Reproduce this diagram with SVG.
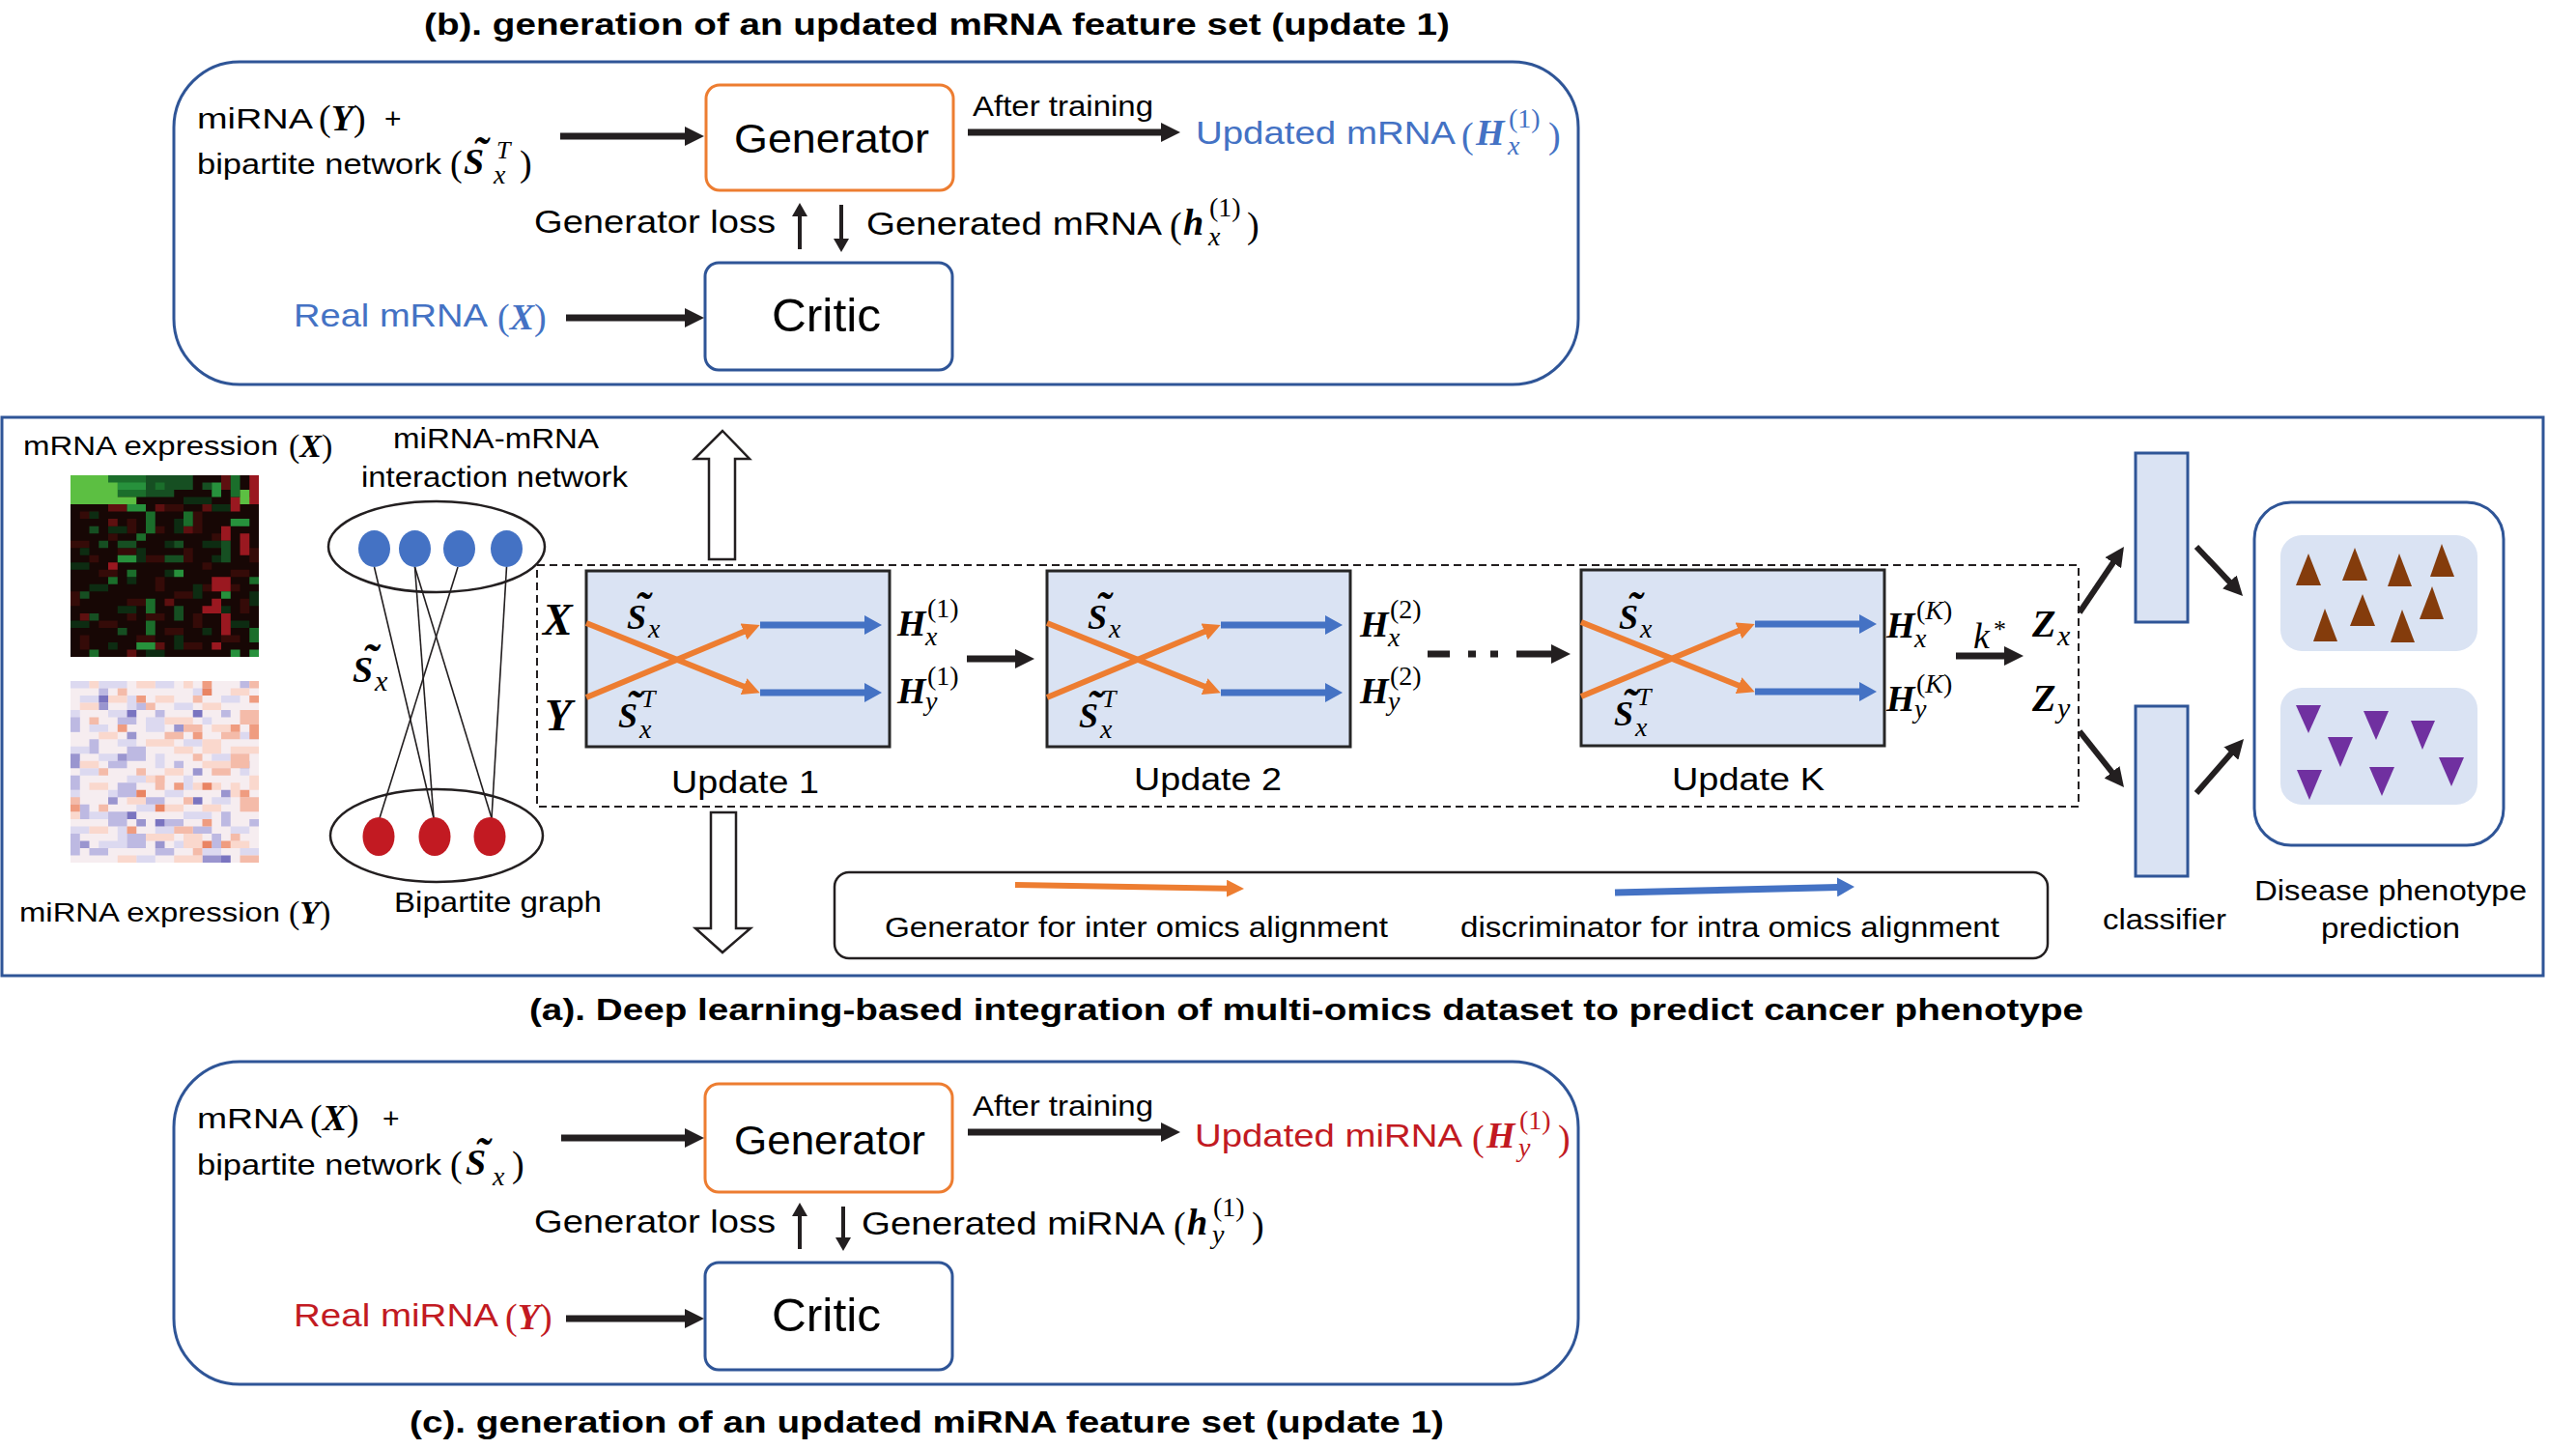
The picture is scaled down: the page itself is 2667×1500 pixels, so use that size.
<svg xmlns="http://www.w3.org/2000/svg" width="2667" height="1500" viewBox="0 0 2667 1500">
<style>
.s{font-family:"Liberation Sans",Arial,Helvetica,sans-serif}
.b{font-weight:bold}
.mb{font-family:"Liberation Serif","Times New Roman",serif;font-style:italic;font-weight:bold}
.mi{font-family:"Liberation Serif","Times New Roman",serif;font-style:italic}
.mr{font-family:"Liberation Serif","Times New Roman",serif}
.frame{fill:none;stroke:#2f5597;stroke-width:3}
.gen{fill:#fff;stroke:#ed7d31;stroke-width:3}
.crit{fill:#fff;stroke:#2f5597;stroke-width:3}
.upd{fill:#dae3f3;stroke:#262626;stroke-width:3}
.ak{stroke:#231f20;stroke-width:7;fill:none;marker-end:url(#mk)}
.aks{stroke:#231f20;stroke-width:4;fill:none;marker-end:url(#mks)}
.ao{stroke:#ed7d31;stroke-width:6;fill:none;marker-end:url(#mo)}
.ab{stroke:#4472c4;stroke-width:7;fill:none;marker-end:url(#mb)}
.hol{fill:#fff;stroke:#231f20;stroke-width:2.5}
.cls{fill:#dae3f3;stroke:#2f5597;stroke-width:3}
.edge{stroke:#231f20;stroke-width:1.6}
.tri{fill:#843c0c}
.tri2{fill:#7030a0}
</style>
<defs>
<marker id="mk" viewBox="0 0 20 20" refX="1" refY="10" markerWidth="20" markerHeight="20" markerUnits="userSpaceOnUse" orient="auto"><path d="M0 0L20 10L0 20z" fill="#231f20"/></marker>
<marker id="mks" viewBox="0 0 14 16" refX="1" refY="8" markerWidth="14" markerHeight="16" markerUnits="userSpaceOnUse" orient="auto"><path d="M0 0L14 8L0 16z" fill="#231f20"/></marker>
<marker id="mo" viewBox="0 0 18 18" refX="1" refY="9" markerWidth="18" markerHeight="18" markerUnits="userSpaceOnUse" orient="auto"><path d="M0 0L18 9L0 18z" fill="#ed7d31"/></marker>
<marker id="mb" viewBox="0 0 18 20" refX="1" refY="10" markerWidth="18" markerHeight="20" markerUnits="userSpaceOnUse" orient="auto"><path d="M0 0L18 10L0 20z" fill="#4472c4"/></marker>
</defs>
<rect width="2667" height="1500" fill="#fff"/>

<!-- ===== (b) panel ===== -->
<text class="s b" x="439" y="36" font-size="32" textLength="1062" lengthAdjust="spacingAndGlyphs">(b). generation of an updated mRNA feature set (update 1)</text>
<rect id="panel-b" class="frame" x="180" y="64" width="1454" height="334" rx="68"/>
<g id="b-input">
<text class="s" x="204" y="133" font-size="30" textLength="120" lengthAdjust="spacingAndGlyphs">miRNA</text>
<text class="mr" x="330" y="135" font-size="38">(<tspan class="mb">Y</tspan>)</text>
<text class="s" x="398" y="133" font-size="30">+</text>
<text class="s" x="204" y="180" font-size="30" textLength="253" lengthAdjust="spacingAndGlyphs">bipartite network</text>
<text class="mr" x="466" y="182" font-size="38">(</text>
<text class="mb" x="480" y="180" font-size="38">S</text>
<text class="mb" x="497" y="174" font-size="46" text-anchor="middle">˜</text>
<text class="mi" x="514" y="164" font-size="26">T</text>
<text class="mi" x="511" y="190" font-size="28">x</text>
<text class="mr" x="538" y="182" font-size="38">)</text>
</g>
<g id="b-generator">
<rect class="gen" x="731" y="88" width="256" height="109" rx="14"/>
<text class="s" x="760" y="158" font-size="42" textLength="202" lengthAdjust="spacingAndGlyphs">Generator</text>
</g>
<g id="b-critic">
<rect class="crit" x="730" y="272" width="256" height="111" rx="14"/>
<text class="s" x="799" y="343" font-size="48" textLength="113" lengthAdjust="spacingAndGlyphs">Critic</text>
</g>
<g id="b-labels">
<text class="s" x="1007" y="120" font-size="30" textLength="187" lengthAdjust="spacingAndGlyphs">After training</text>
<g fill="#4472c4">
<text class="s" x="1238" y="149" font-size="33" textLength="269" lengthAdjust="spacingAndGlyphs">Updated mRNA</text>
<text class="mr" x="1513" y="153" font-size="38">(</text>
<text class="mb" x="1528" y="150" font-size="38">H</text>
<text class="mr" x="1562" y="132" font-size="28">(1)</text>
<text class="mi" x="1561" y="160" font-size="28">x</text>
<text class="mr" x="1603" y="153" font-size="38">)</text>
</g>
<text class="s" x="553" y="241" font-size="33" textLength="250" lengthAdjust="spacingAndGlyphs">Generator loss</text>
<text class="s" x="897" y="243" font-size="33" textLength="306" lengthAdjust="spacingAndGlyphs">Generated mRNA</text>
<text class="mr" x="1211" y="246" font-size="38">(</text>
<text class="mb" x="1225" y="243" font-size="38">h</text>
<text class="mr" x="1252" y="224" font-size="28">(1)</text>
<text class="mi" x="1251" y="254" font-size="28">x</text>
<text class="mr" x="1291" y="246" font-size="38">)</text>
<g fill="#4472c4">
<text class="s" x="304" y="338" font-size="33" textLength="201" lengthAdjust="spacingAndGlyphs">Real mRNA</text>
<text class="mr" x="515" y="341" font-size="38">(<tspan class="mb">X</tspan>)</text>
</g>
</g>

<!-- ===== (c) panel ===== -->
<rect id="panel-c" class="frame" x="180" y="1099" width="1454" height="334" rx="68"/>
<g id="c-input">
<text class="s" x="204" y="1168" font-size="30" textLength="110" lengthAdjust="spacingAndGlyphs">mRNA</text>
<text class="mr" x="321" y="1170" font-size="38">(<tspan class="mb">X</tspan>)</text>
<text class="s" x="396" y="1168" font-size="30">+</text>
<text class="s" x="204" y="1216" font-size="30" textLength="253" lengthAdjust="spacingAndGlyphs">bipartite network</text>
<text class="mr" x="466" y="1218" font-size="38">(</text>
<text class="mb" x="482" y="1216" font-size="38">S</text>
<text class="mb" x="499" y="1210" font-size="46" text-anchor="middle">˜</text>
<text class="mi" x="510" y="1227" font-size="28">x</text>
<text class="mr" x="530" y="1218" font-size="38">)</text>
</g>
<g id="c-generator">
<rect class="gen" x="730" y="1122" width="256" height="112" rx="14"/>
<text class="s" x="760" y="1195" font-size="42" textLength="198" lengthAdjust="spacingAndGlyphs">Generator</text>
</g>
<g id="c-critic">
<rect class="crit" x="730" y="1307" width="256" height="111" rx="14"/>
<text class="s" x="799" y="1378" font-size="48" textLength="113" lengthAdjust="spacingAndGlyphs">Critic</text>
</g>
<g id="c-labels">
<text class="s" x="1007" y="1155" font-size="30" textLength="187" lengthAdjust="spacingAndGlyphs">After training</text>
<g fill="#c21a22">
<text class="s" x="1237" y="1187" font-size="33" textLength="277" lengthAdjust="spacingAndGlyphs">Updated miRNA</text>
<text class="mr" x="1524" y="1191" font-size="38">(</text>
<text class="mb" x="1539" y="1188" font-size="38">H</text>
<text class="mr" x="1573" y="1169" font-size="28">(1)</text>
<text class="mi" x="1572" y="1197" font-size="28">y</text>
<text class="mr" x="1613" y="1191" font-size="38">)</text>
</g>
<text class="s" x="553" y="1276" font-size="33" textLength="250" lengthAdjust="spacingAndGlyphs">Generator loss</text>
<text class="s" x="892" y="1278" font-size="33" textLength="314" lengthAdjust="spacingAndGlyphs">Generated miRNA</text>
<text class="mr" x="1215" y="1281" font-size="38">(</text>
<text class="mb" x="1229" y="1278" font-size="38">h</text>
<text class="mr" x="1256" y="1259" font-size="28">(1)</text>
<text class="mi" x="1255" y="1287" font-size="28">y</text>
<text class="mr" x="1296" y="1281" font-size="38">)</text>
<g fill="#c21a22">
<text class="s" x="304" y="1373" font-size="33" textLength="212" lengthAdjust="spacingAndGlyphs">Real miRNA</text>
<text class="mr" x="523" y="1376" font-size="38">(<tspan class="mb">Y</tspan>)</text>
</g>
</g>
<text class="s b" x="424" y="1483" font-size="32" textLength="1071" lengthAdjust="spacingAndGlyphs">(c). generation of an updated miRNA feature set (update 1)</text>

<!-- ===== (a) panel ===== -->
<rect id="panel-a" class="frame" x="2" y="432" width="2631" height="578"/>
<text class="s b" x="548" y="1056" font-size="32" textLength="1609" lengthAdjust="spacingAndGlyphs">(a). Deep learning-based integration of multi-omics dataset to predict cancer phenotype</text>

<g id="mrna-heatmap">
<text class="s" x="24" y="471" font-size="28" textLength="264" lengthAdjust="spacingAndGlyphs">mRNA expression</text>
<text class="mr" x="299" y="473" font-size="34">(<tspan class="mb">X</tspan>)</text>
<g transform="translate(73,492) scale(9.75,7.52)">
<rect width="20" height="25" fill="#170705"/>
<path fill="#350b08" d="M1 5h2v1h-2zM6 6h1v2h-1zM10 4h2v1h-2zM13 5h1v3h-1zM0 9h2v1h-2zM8 11h2v1h-2zM12 10h1v2h-1zM3 13h2v1h-2zM9 14h1v2h-1zM14 12h1v1h-1zM0 16h1v2h-1zM6 17h2v1h-2zM11 16h2v1h-2zM3 20h2v1h-2zM10 21h2v1h-2zM13 19h1v2h-1zM17 13h2v1h-2zM18 17h1v2h-1zM7 22h2v1h-2zM12 23h2v1h-2zM1 22h1v2h-1zM16 22h2v1h-2zM5 10h2v1h-2zM15 8h1v2h-1zM19 10h1v2h-1zM2 11h1v1h-1zM8 19h2v1h-2zM14 15h1v1h-1zM4 8h1v1h-1zM9 7h1v1h-1zM17 15h1v1h-1zM6 19h1v1h-1z"/>
<path fill="#0d2c12" d="M2 5h1v1h-1zM4 7h2v1h-2zM11 6h1v2h-1zM14 9h2v1h-2zM0 12h2v1h-2zM7 10h1v2h-1zM10 13h1v1h-1zM2 15h2v1h-2zM13 15h1v2h-1zM5 18h2v1h-2zM16 18h1v1h-1zM0 20h2v1h-2zM11 22h1v2h-1zM14 21h1v1h-1zM8 24h2v1h-2zM17 20h2v1h-2zM4 23h1v1h-1zM19 16h1v2h-1zM18 6h1v1h-1zM6 14h1v1h-1zM12 3h3v1h-3zM15 4h2v1h-2zM1 10h1v1h-1zM10 9h1v1h-1zM15 11h1v1h-1z"/>
<path fill="#5e1010" d="M4 4h2v1h-2zM9 4h1v1h-1zM4 6h1v1h-1zM6 24h1v1h-1zM12 7h1v1h-1zM1 19h1v1h-1zM9 23h1v1h-1zM14 4h1v1h-1zM16 0h1v2h-1zM10 17h1v1h-1z"/>
<path fill="#9a1820" d="M19 0h1v3h-1zM17 3h3v1h-3zM16 7h1v2h-1zM18 8h1v3h-1zM15 14h2v2h-2zM4 12h1v1h-1zM15 17h1v2h-1zM16 19h1v3h-1zM15 23h1v1h-1zM17 4h1v1h-1zM14 18h1v1h-1z"/>
<path fill="#164f22" d="M8 0h3v3h-3zM11 0h2v2h-2zM2 7h1v1h-1zM11 9h1v1h-1zM3 9h1v1h-1zM5 9h2v1h-2zM10 11h2v1h-2zM1 16h1v1h-1zM11 18h1v1h-1zM11 19h1v1h-1zM2 19h1v1h-1zM5 21h1v1h-1zM16 9h1v3h-1zM14 1h1v1h-1z"/>
<path fill="#1b6e2b" d="M4 0h4v3h-4zM8 5h1v3h-1zM12 5h1v2h-1zM17 0h1v3h-1zM7 8h1v1h-1zM6 13h1v1h-1zM4 14h1v1h-1zM19 14h1v1h-1zM8 17h1v2h-1zM8 20h1v2h-1zM19 21h1v2h-1zM2 24h1v1h-1zM9 1h1v1h-1z"/>
<path fill="#27913c" d="M6 4h2v1h-2zM17 6h2v1h-2zM5 11h2v1h-2zM11 13h1v1h-1zM16 16h1v1h-1zM7 23h2v1h-2zM17 24h1v1h-1zM19 24h1v1h-1zM15 1h1v2h-1zM5 1h3v1h-3z"/>
<path fill="#5cbf42" d="M0 0h4v4h-4zM4 3h3v1h-3zM18 2h1v2h-1zM4 1h1v2h-1z"/>
</g>
</g>

<g id="mirna-heatmap">
<g transform="translate(73,705) scale(9.75,7.52)">
<rect width="20" height="25" fill="#f6edf0"/>
<path fill="#dcd9f0" d="M0 0h2v1h-2zM3 0h3v1h-3zM9 0h2v1h-2zM13 1h2v1h-2zM1 2h2v1h-2zM6 2h1v2h-1zM16 2h2v1h-2zM0 4h1v3h-1zM4 4h2v1h-2zM11 3h2v1h-2zM2 6h2v1h-2zM8 5h2v2h-2zM14 5h1v1h-1zM0 9h2v1h-2zM5 8h2v1h-2zM12 8h2v1h-2zM18 7h2v1h-2zM3 10h2v1h-2zM9 10h1v2h-1zM15 10h2v1h-2zM1 12h2v1h-2zM6 13h3v1h-3zM12 13h1v2h-1zM18 12h1v1h-1zM0 15h1v2h-1zM4 15h2v1h-2zM10 15h2v1h-2zM15 16h2v1h-2zM2 18h2v1h-2zM7 17h2v1h-2zM12 18h3v1h-3zM0 20h2v1h-2zM5 20h1v2h-1zM9 20h2v1h-2zM17 20h2v1h-2zM3 22h3v1h-3zM11 22h2v1h-2zM14 23h2v1h-2zM7 24h2v1h-2zM18 23h2v1h-2z"/>
<path fill="#bdb9e2" d="M0 5h1v2h-1zM5 5h2v1h-2zM9 4h1v1h-1zM2 8h1v2h-1zM6 9h2v2h-2zM4 11h2v1h-2zM11 11h1v1h-1zM0 13h1v2h-1zM5 14h2v2h-2zM8 16h2v1h-2zM1 17h1v2h-1zM4 18h2v2h-2zM10 19h2v1h-2zM16 18h1v2h-1zM0 21h1v3h-1zM6 21h2v2h-2zM13 20h2v1h-2zM2 23h2v1h-2zM9 23h2v1h-2zM15 21h1v2h-1zM19 19h1v1h-1zM7 3h1v1h-1zM16 4h1v1h-1zM18 0h1v1h-1zM3 1h1v1h-1z"/>
<path fill="#9a95cf" d="M6 7h1v1h-1zM5 10h1v1h-1zM0 10h1v2h-1zM4 16h1v1h-1zM7 19h1v1h-1zM13 12h1v1h-1zM1 22h1v1h-1zM9 22h1v1h-1zM16 15h1v1h-1zM18 11h1v1h-1zM14 24h2v1h-2zM11 6h1v1h-1zM3 3h1v1h-1z"/>
<path fill="#7a74c0" d="M6 4h1v1h-1zM3 2h1v1h-1zM13 4h1v1h-1zM6 18h1v1h-1zM9 19h1v1h-1zM13 16h1v1h-1zM16 24h1v1h-1z"/>
<path fill="#fad8cd" d="M2 0h1v1h-1zM7 0h2v1h-2zM12 0h1v1h-1zM17 1h2v1h-2zM4 2h2v1h-2zM9 2h2v1h-2zM14 3h2v1h-2zM1 3h2v1h-2zM10 5h3v1h-3zM15 6h2v1h-2zM3 7h2v1h-2zM8 8h3v1h-3zM14 8h2v2h-2zM17 9h3v1h-3zM1 11h2v1h-2zM10 12h2v1h-2zM14 11h3v1h-3zM19 13h1v2h-1zM2 14h2v1h-2zM13 14h1v1h-1zM15 14h1v1h-1zM17 14h1v2h-1zM6 16h2v1h-2zM10 17h2v1h-2zM14 17h2v1h-2zM2 20h2v1h-2zM8 21h3v1h-3zM12 21h2v2h-2zM17 22h2v1h-2zM5 24h2v1h-2zM11 24h3v1h-3zM0 18h1v1h-1zM8 13h2v1h-2zM11 9h2v1h-2z"/>
<path fill="#f4bba9" d="M19 0h1v1h-1zM13 2h1v1h-1zM5 1h1v1h-1zM8 3h1v1h-1zM18 4h2v2h-2zM12 6h2v1h-2zM2 5h1v1h-1zM10 7h2v1h-2zM16 7h2v1h-2zM17 10h2v2h-2zM13 10h1v1h-1zM9 13h1v2h-1zM15 12h2v1h-2zM18 16h2v2h-2zM12 16h1v1h-1zM3 17h1v1h-1zM0 16h1v1h-1zM11 20h2v1h-2zM17 21h1v1h-1zM13 23h1v1h-1zM18 24h2v1h-2zM7 12h1v1h-1zM3 12h1v1h-1z"/>
<path fill="#ef9c80" d="M14 0h1v1h-1zM19 2h1v1h-1zM7 2h1v1h-1zM13 7h1v1h-1zM19 6h1v2h-1zM0 17h1v1h-1zM11 14h1v1h-1zM18 15h1v1h-1zM14 19h1v1h-1zM6 20h1v1h-1zM16 22h1v1h-1zM17 6h1v1h-1zM5 6h1v1h-1z"/>
<path fill="#e98463" d="M14 1h1v1h-1zM14 14h1v1h-1zM9 17h1v1h-1zM14 22h1v1h-1zM7 15h1v1h-1z"/>
</g>
<text class="s" x="20" y="954" font-size="28" textLength="270" lengthAdjust="spacingAndGlyphs">miRNA expression</text>
<text class="mr" x="299" y="956" font-size="34">(<tspan class="mb">Y</tspan>)</text>
</g>

<g id="bipartite-graph">
<text class="s" x="407" y="464" font-size="29" textLength="213" lengthAdjust="spacingAndGlyphs">miRNA-mRNA</text>
<text class="s" x="374" y="504" font-size="29" textLength="276" lengthAdjust="spacingAndGlyphs">interaction network</text>
<ellipse cx="452" cy="566" rx="112" ry="47" fill="#fff" stroke="#231f20" stroke-width="2.5"/>
<ellipse cx="452" cy="865" rx="110" ry="48" fill="#fff" stroke="#231f20" stroke-width="2.5"/>
<g class="edge">
<line x1="387.5" y1="587" x2="449" y2="847"/>
<line x1="429.5" y1="587" x2="449" y2="847"/>
<line x1="429.5" y1="587" x2="509" y2="847"/>
<line x1="474" y1="587" x2="393" y2="847"/>
<line x1="524.5" y1="587" x2="509" y2="847"/>
</g>
<g fill="#4472c4">
<ellipse cx="387.5" cy="568" rx="16.5" ry="19"/>
<ellipse cx="429.5" cy="568" rx="16.5" ry="19"/>
<ellipse cx="475.5" cy="568" rx="16.5" ry="19"/>
<ellipse cx="524.5" cy="568" rx="16.5" ry="19"/>
</g>
<g fill="#c21a22">
<ellipse cx="392" cy="866" rx="16.5" ry="20"/>
<ellipse cx="450" cy="866" rx="16.5" ry="20"/>
<ellipse cx="507" cy="866" rx="16.5" ry="20"/>
</g>
<text class="mb" x="365" y="706" font-size="38">S</text>
<text class="mb" x="383" y="700" font-size="48" text-anchor="middle">˜</text>
<text class="mi" x="388" y="715" font-size="30">x</text>
<text class="s" x="408" y="944" font-size="29" textLength="215" lengthAdjust="spacingAndGlyphs">Bipartite graph</text>
</g>

<g id="hollow-arrows">
<polygon class="hol" points="748,446 776,475 761,475 761,579 734,579 734,475 719,475"/>
<polygon class="hol" points="736,841 762,841 762,961 777,961 748,986 720,961 736,961"/>
</g>

<rect id="update-frame" x="556" y="585" width="1596" height="250" fill="none" stroke="#231f20" stroke-width="2" stroke-dasharray="8 5"/>
<text class="mb" x="562" y="657" font-size="46">X</text>
<text class="mb" x="564" y="756" font-size="46">Y</text>

<g id="update-1" transform="translate(607,591)">
<rect class="upd" width="314" height="182"/>
<path class="ao" d="M0 54L164 120"/>
<path class="ao" d="M0 131L164 62.5"/>
<path class="ab" d="M180 56H289"/>
<path class="ab" d="M180 126H289"/>
<text class="mb" x="42" y="60" font-size="36">S</text>
<text class="mb" x="58" y="54" font-size="46" text-anchor="middle">˜</text>
<text class="mi" x="64" y="69" font-size="28">x</text>
<text class="mb" x="33" y="162" font-size="36">S</text>
<text class="mb" x="49" y="156" font-size="46" text-anchor="middle">˜</text>
<text class="mi" x="57" y="141" font-size="26">T</text>
<text class="mi" x="55" y="173" font-size="28">x</text>
<text class="mb" x="322" y="67" font-size="38">H</text>
<text class="mr" x="353" y="48" font-size="28">(1)</text>
<text class="mi" x="351" y="77" font-size="28">x</text>
<text class="mb" x="322" y="137" font-size="38">H</text>
<text class="mr" x="353" y="118" font-size="28">(1)</text>
<text class="mi" x="351" y="144" font-size="28">y</text>
<text class="s" x="88" y="230" font-size="34" textLength="153" lengthAdjust="spacingAndGlyphs">Update 1</text>
</g>

<g id="update-2" transform="translate(1084,591)">
<rect class="upd" width="314" height="182"/>
<path class="ao" d="M0 54L164 120"/>
<path class="ao" d="M0 131L164 62.5"/>
<path class="ab" d="M180 56H289"/>
<path class="ab" d="M180 126H289"/>
<text class="mb" x="42" y="60" font-size="36">S</text>
<text class="mb" x="58" y="54" font-size="46" text-anchor="middle">˜</text>
<text class="mi" x="64" y="69" font-size="28">x</text>
<text class="mb" x="33" y="162" font-size="36">S</text>
<text class="mb" x="49" y="156" font-size="46" text-anchor="middle">˜</text>
<text class="mi" x="57" y="141" font-size="26">T</text>
<text class="mi" x="55" y="173" font-size="28">x</text>
<text class="mb" x="324" y="68" font-size="38">H</text>
<text class="mr" x="355" y="49" font-size="28">(2)</text>
<text class="mi" x="353" y="78" font-size="28">x</text>
<text class="mb" x="324" y="137" font-size="38">H</text>
<text class="mr" x="355" y="118" font-size="28">(2)</text>
<text class="mi" x="353" y="144" font-size="28">y</text>
<text class="s" x="90" y="227" font-size="34" textLength="153" lengthAdjust="spacingAndGlyphs">Update 2</text>
</g>

<g id="update-k" transform="translate(1637,590)">
<rect class="upd" width="314" height="182"/>
<path class="ao" d="M0 54L164 120"/>
<path class="ao" d="M0 131L164 62.5"/>
<path class="ab" d="M180 56H289"/>
<path class="ab" d="M180 126H289"/>
<text class="mb" x="39" y="61" font-size="36">S</text>
<text class="mb" x="55" y="55" font-size="46" text-anchor="middle">˜</text>
<text class="mi" x="61" y="70" font-size="28">x</text>
<text class="mb" x="34" y="161" font-size="36">S</text>
<text class="mb" x="50" y="155" font-size="46" text-anchor="middle">˜</text>
<text class="mi" x="58" y="140" font-size="26">T</text>
<text class="mi" x="56" y="172" font-size="28">x</text>
<text class="mb" x="316" y="70" font-size="38">H</text>
<text class="mr" x="347" y="51" font-size="28">(<tspan class="mi">K</tspan>)</text>
<text class="mi" x="345" y="80" font-size="28">x</text>
<text class="mb" x="316" y="146" font-size="38">H</text>
<text class="mr" x="347" y="127" font-size="28">(<tspan class="mi">K</tspan>)</text>
<text class="mi" x="345" y="153" font-size="28">y</text>
<text class="s" x="94" y="228" font-size="34" textLength="158" lengthAdjust="spacingAndGlyphs">Update K</text>
</g>

<g id="latent">
<text class="mi" x="2043" y="671" font-size="38">k</text>
<text class="mr" x="2064" y="660" font-size="26">*</text>
<text class="mb" x="2104" y="659" font-size="40">Z</text>
<text class="mi" x="2130" y="668" font-size="30">x</text>
<text class="mb" x="2104" y="736" font-size="40">Z</text>
<text class="mi" x="2130" y="743" font-size="30">y</text>
</g>

<g id="classifier">
<rect class="cls" x="2211" y="469" width="54" height="175"/>
<rect class="cls" x="2211" y="731" width="54" height="176"/>
<text class="s" x="2177" y="962" font-size="30" textLength="128" lengthAdjust="spacingAndGlyphs">classifier</text>
</g>

<g id="prediction">
<rect x="2334" y="520" width="258" height="355" rx="38" fill="#fff" stroke="#2f5597" stroke-width="3"/>
<rect x="2361" y="554" width="204" height="120" rx="22" fill="#dae3f3"/>
<rect x="2361" y="712" width="204" height="121" rx="22" fill="#dae3f3"/>
<g class="tri">
<polygon points="2390,573 2403,606 2377,606"/>
<polygon points="2438,567 2451,601 2425,601"/>
<polygon points="2484,573 2497,607 2472,607"/>
<polygon points="2528,563 2541,597 2516,597"/>
<polygon points="2407,630 2420,664 2395,664"/>
<polygon points="2446,615 2459,648 2433,648"/>
<polygon points="2487,631 2500,665 2475,665"/>
<polygon points="2518,607 2530,641 2505,641"/>
</g>
<g class="tri2">
<polygon points="2377,730 2403,730 2390,759"/>
<polygon points="2410,763 2436,763 2423,794"/>
<polygon points="2447,736 2473,736 2460,766"/>
<polygon points="2496,746 2521,746 2508,776"/>
<polygon points="2378,797 2404,797 2391,828"/>
<polygon points="2453,794 2479,794 2466,824"/>
<polygon points="2525,784 2551,784 2538,814"/>
</g>
<text class="s" x="2334" y="932" font-size="30" textLength="282" lengthAdjust="spacingAndGlyphs">Disease phenotype</text>
<text class="s" x="2403" y="971" font-size="30" textLength="144" lengthAdjust="spacingAndGlyphs">prediction</text>
</g>

<g id="legend">
<rect x="864" y="903" width="1256" height="89" rx="15" fill="#fff" stroke="#231f20" stroke-width="2.5"/>
<path class="ao" d="M1051 916L1271 919.7"/>
<path class="ab" d="M1672 924L1903 918.4"/>
<text class="s" x="916" y="970" font-size="30" textLength="521" lengthAdjust="spacingAndGlyphs">Generator for inter omics alignment</text>
<text class="s" x="1512" y="970" font-size="30" textLength="558" lengthAdjust="spacingAndGlyphs">discriminator for intra omics alignment</text>
</g>

<g id="connectors">
<path class="ak" d="M580 141H710"/>
<path class="ak" d="M1002 137H1203"/>
<path class="ak" d="M586 329H710"/>
<path class="aks" d="M828 258V223"/>
<path class="aks" d="M871 212V248"/>
<path class="ak" d="M581 1178H710"/>
<path class="ak" d="M1002 1172H1203"/>
<path class="ak" d="M586 1365H710"/>
<path class="aks" d="M828 1293V1258"/>
<path class="aks" d="M873 1249V1282"/>
<path class="ak" d="M1001 682H1052"/>
<path class="ak" d="M1478 677H1501M1520 677H1528M1543 677H1551M1570 677H1607"/>
<path class="ak" d="M2025 679H2076"/>
<path class="ak" style="stroke-width:6" d="M2153 634L2188.3 581.8"/>
<path class="ak" style="stroke-width:6" d="M2153 757L2187.2 800.1"/>
<path class="ak" style="stroke-width:6" d="M2274 566L2309 603.1"/>
<path class="ak" style="stroke-width:6" d="M2274 821L2310.5 779.3"/>
</g>
</svg>
